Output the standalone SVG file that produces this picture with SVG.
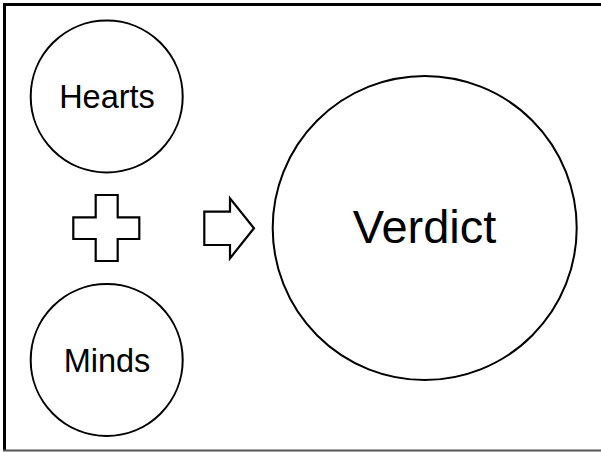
<svg xmlns="http://www.w3.org/2000/svg" width="601" height="452" viewBox="0 0 601 452">
<style>
.node{fill:#fff;stroke:#000;stroke-width:2}
.lbl{font-family:"Liberation Sans",Arial,sans-serif;fill:#000;text-anchor:middle}
.sym{fill:#fff;stroke:#000;stroke-width:2.2;stroke-linejoin:miter}
</style>
<rect x="0" y="0" width="601" height="452" fill="#fff"/>
<g id="frame">
<line x1="3" y1="4.5" x2="601" y2="4.5" stroke="#000" stroke-width="3"/>
<line x1="4.5" y1="3" x2="4.5" y2="451" stroke="#000" stroke-width="3"/>
<line x1="3" y1="450.5" x2="601" y2="450.5" stroke="#555" stroke-width="2"/>
</g>
<g id="hearts">
<circle class="node" cx="106.7" cy="96.5" r="76"/>
<text class="lbl" x="107" y="108.3" font-size="32.5">Hearts</text>
</g>
<g id="minds">
<circle class="node" cx="106.7" cy="360" r="76"/>
<text class="lbl" x="107" y="372.3" font-size="32.5">Minds</text>
</g>
<g id="verdict">
<circle class="node" cx="424.7" cy="228" r="152"/>
<text class="lbl" x="424.5" y="243.3" font-size="47">Verdict</text>
</g>
<g id="connectors">
<path id="plus" class="sym" d="M95.7,195 H117.7 V217.3 H139.3 V239 H117.7 V261 H95.7 V239 H73.3 V217.3 H95.7 Z"/>
<path id="arrow" class="sym" d="M204.3,211.7 H230 V198.3 L254,228.3 L230,258.3 V245 H204.3 Z"/>
</g>
</svg>
